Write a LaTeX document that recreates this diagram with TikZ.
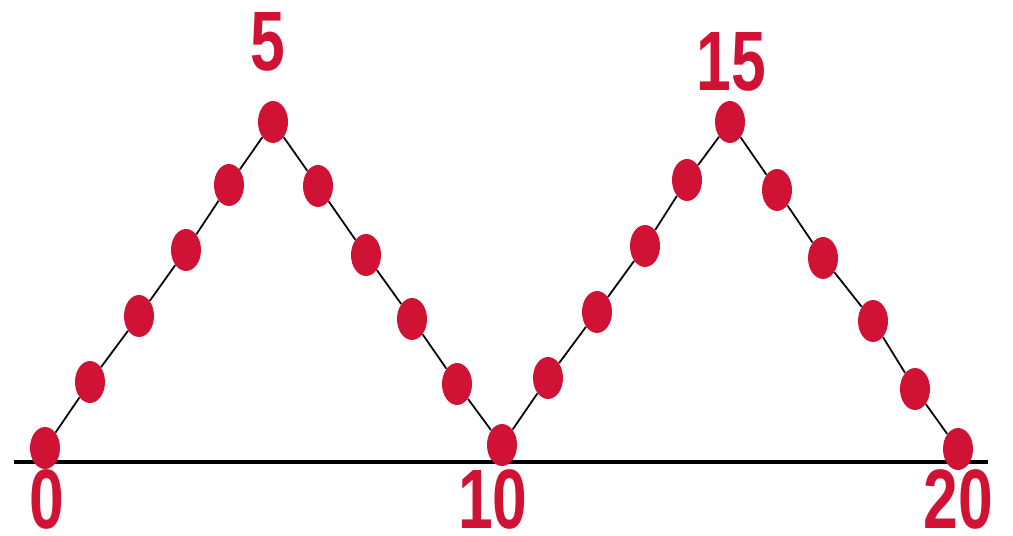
\documentclass[tikz,border=0pt]{standalone}
\usepackage{fontspec}
\setmainfont{Liberation Sans}
\usepackage{xcolor}
\usetikzlibrary{positioning,shapes.geometric}
\definecolor{dotred}{RGB}{208,18,52}
\tikzset{
  dot/.style={ellipse,fill=dotred,draw=none,minimum width=0.6cm,minimum height=0.84cm,inner sep=0pt},
  numlabel/.style={text=dotred,font=\fontsize{48}{48}\selectfont\bfseries,xscale=0.74,anchor=base,inner sep=0pt}
}

\begin{document}
\begin{tikzpicture}[x=0.02cm,y=-0.02cm]
\useasboundingbox (0,0) rectangle (1013,536);
% axis
\coordinate (axl) at (14,462);
\coordinate (axr) at (988,462);
\draw [line width=2.2pt] (axl) -- (axr);
% dots
\foreach \px/\py [count=\i from 0] in {45/448,90/382,139/316,186/250,229/185,273/122,318/186,366/255,412/319,457/384,502/445,548/378,597/312,645/246,687/180,730/122,777/190,823/258,873/321,915/389,958/449}
  \node [dot] (d\i) at (\px,\py) {};
\foreach \i in {0,...,19}
  \pgfmathtruncatemacro{\j}{\i+1}
  \draw [line width=1pt] (d\i) -- (d\j);
% labels
\node [numlabel] (l0) at (47,528) {0};
\node [numlabel] (l5) at (268,71) {5};
\node [numlabel] (l10) at (493,528) {10};
\node [numlabel] (l15) at (731,91) {15};
\node [numlabel] (l20) at (958,528) {20};
\end{tikzpicture}
\end{document}
